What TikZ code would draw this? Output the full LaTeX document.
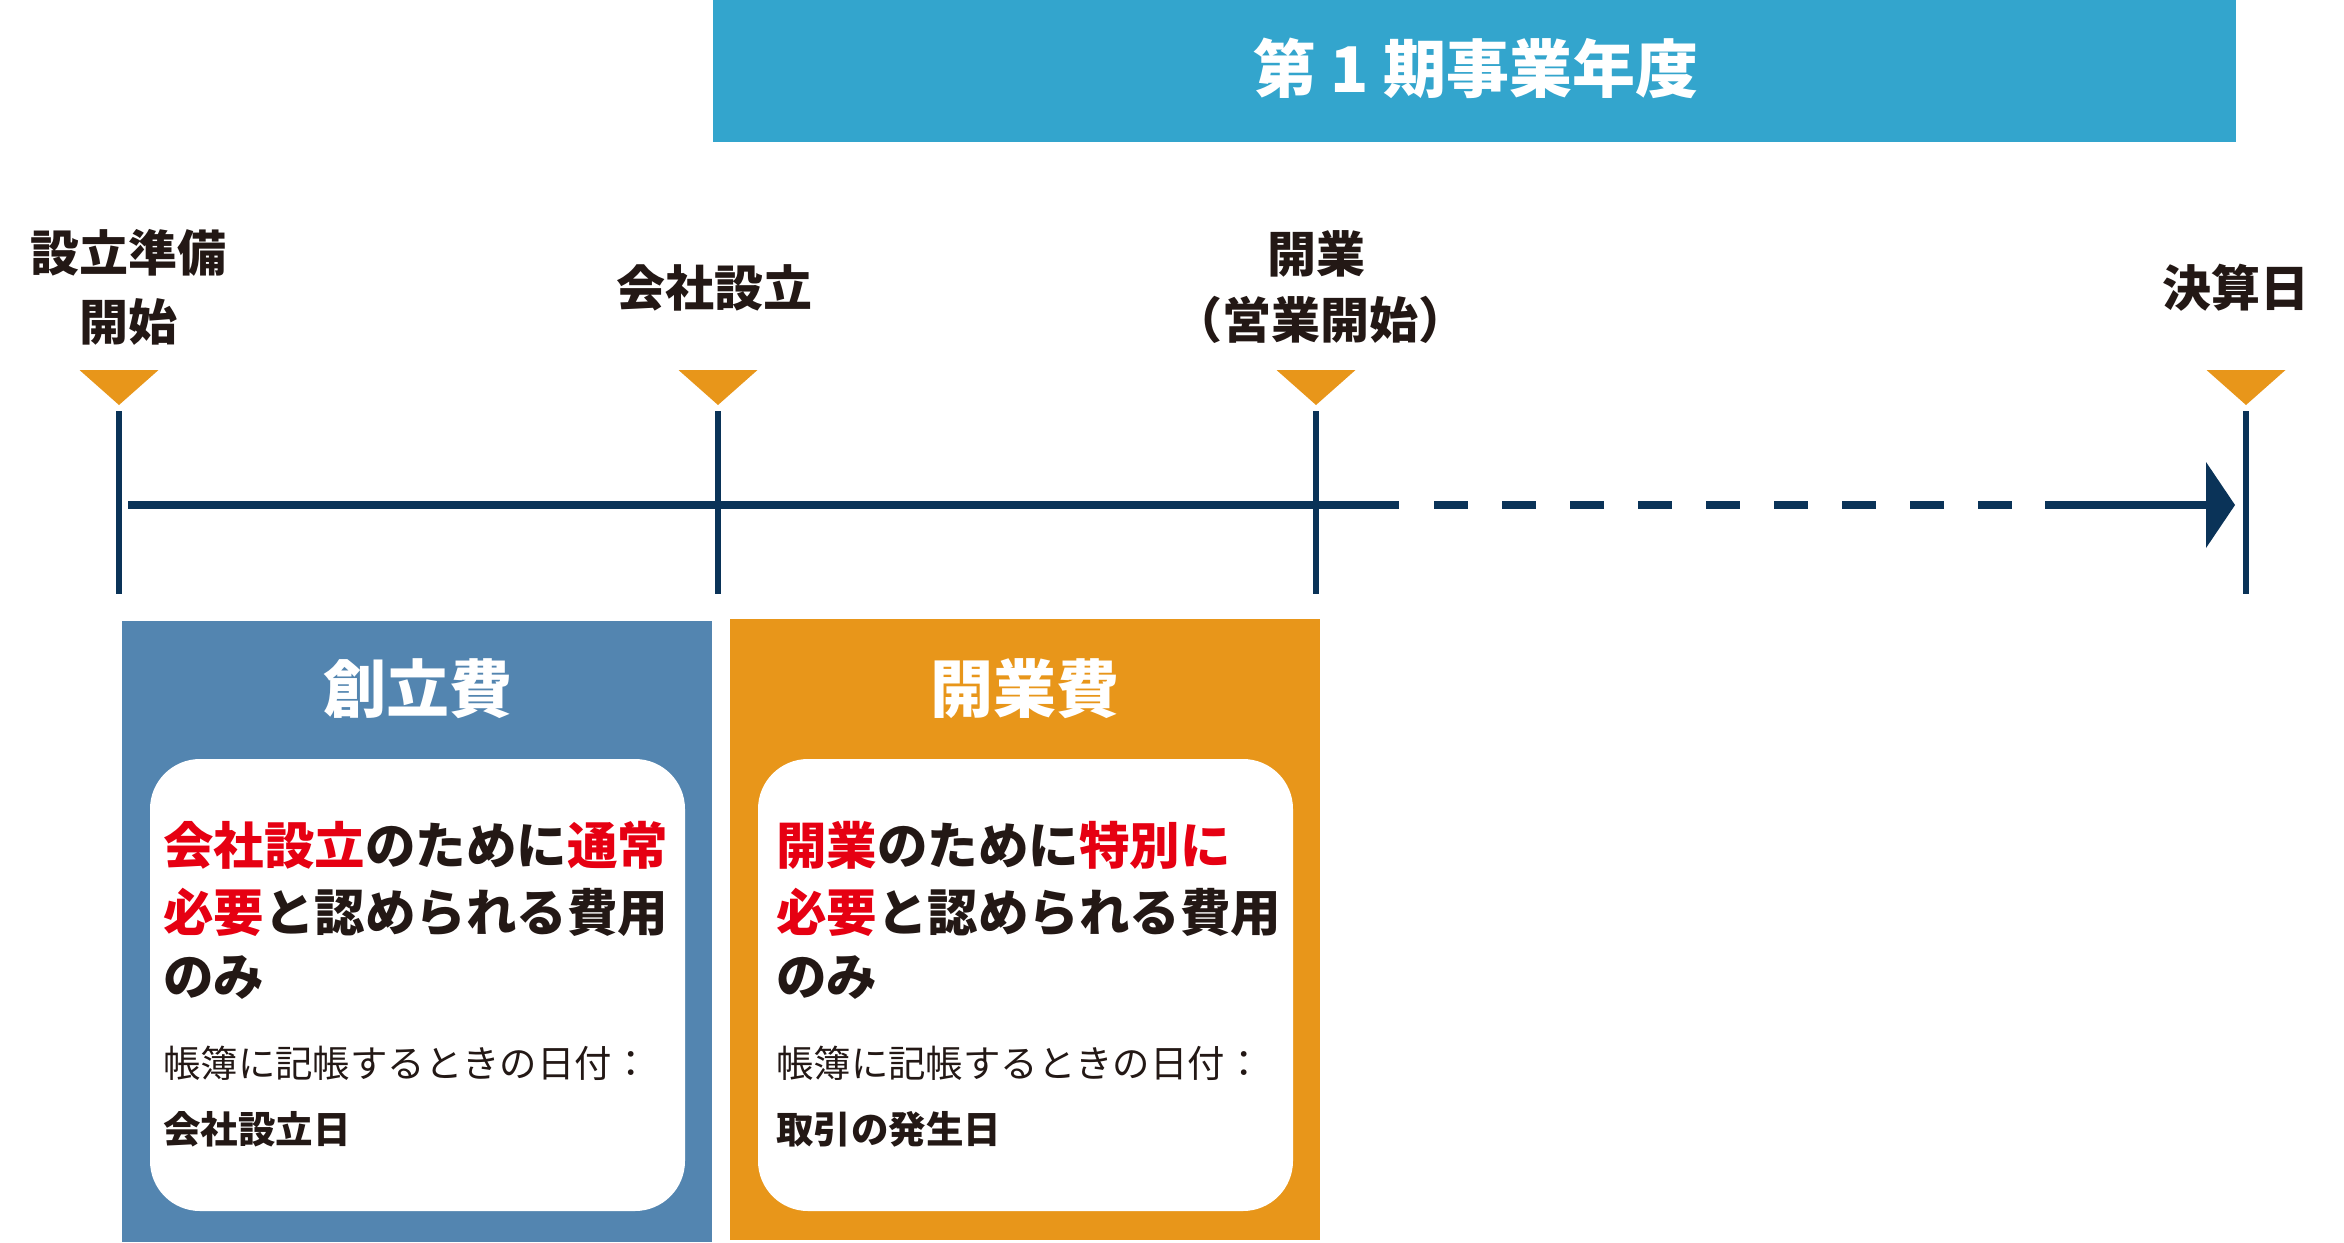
\documentclass[tikz,border=0pt]{standalone}
\usepackage{fontspec}
\setmainfont{Noto Sans CJK JP}[BoldFont={Noto Sans CJK JP Black}]
\definecolor{banner}{HTML}{33A5CD}
\definecolor{navy}{HTML}{0A3358}
\definecolor{orng}{HTML}{E8961A}
\definecolor{steel}{HTML}{5385B0}
\definecolor{redt}{HTML}{E60012}
\definecolor{ink}{HTML}{231815}
\tikzset{
  tick/.style={navy, line width=6pt},
  tline/.style={navy, line width=8pt},
  marker/.style={fill=orng, draw=none},
  lbl/.style={inner sep=0pt, text=ink, font=\bfseries\fontsize{49}{55}\selectfont, align=center},
  head/.style={inner sep=0pt, text=white, font=\bfseries\fontsize{63}{70}\selectfont},
  big/.style={inner sep=0pt, anchor=west, text=ink, font=\bfseries\fontsize{50.5}{56}\selectfont},
  small/.style={inner sep=0pt, anchor=west, text=ink, font=\fontsize{37.4}{42}\selectfont},
  smallb/.style={inner sep=0pt, anchor=west, text=ink, font=\bfseries\fontsize{37.5}{42}\selectfont},
  card/.style={fill=white, draw=none, rounded corners=50pt}
}
\begin{document}
\begin{tikzpicture}[x=1pt,y=-1pt]
\useasboundingbox[fill=white] (0,0) rectangle (2344,1242);
% banner
\fill[banner] (713,0) rectangle (2236,142);
\node[head] (title) at (1476,68) {第 1 期事業年度};
% markers
\foreach \n/\x in {a/119,b/718,c/1316,d/2246}{
  \coordinate (\n top) at (\x,411);
  \coordinate (\n bot) at (\x,594);
  \fill[marker] (\x-39.5,370) -- (\x+39.5,370) -- (\x,405) -- cycle;
  \draw[tick] (\n top) -- (\n bot);
}
% timeline
\coordinate (s0) at (128,505);
\coordinate (s1) at (1399,505);
\coordinate (d0) at (1434,505);
\coordinate (d1) at (2045,505);
\coordinate (e1) at (2208,505);
\draw[tline] (s0) -- (s1);
\draw[tline, dash pattern=on 34pt off 34pt] (d0) -- (d1);
\draw[tline] (d1) -- (e1);
\fill[navy] (2206,462) -- (2235,505) -- (2206,548) -- cycle;
% labels
\node[lbl] (l1a) at (128,253) {設立準備};
\node[lbl] (l1b) at (128,322) {開始};
\node[lbl] (l2) at (714,288) {会社設立};
\node[lbl] (l3a) at (1316,254) {開業};
\node[lbl] (l3b) at (1320,320) {（営業開始）};
\node[lbl] (l4) at (2236,288) {決算日};
% boxes
\fill[steel] (122,621) rectangle (712,1242);
\fill[orng] (730,619) rectangle (1320,1240);
\node[head] (h1) at (418,689) {創立費};
\node[head] (h2) at (1025,689) {開業費};
\fill[card] (150,759) rectangle (685,1211);
\fill[card] (758,759) rectangle (1293,1211);
% left card text
\node[big] (a1) at (163,845) {\textcolor{redt}{会社設立}のために\textcolor{redt}{通常}};
\node[big] (a2) at (163,912) {\textcolor{redt}{必要}と認められる費用};
\node[big] (a3) at (163,978) {のみ};
\node[small] (a4) at (163,1063) {帳簿に記帳するときの日付：};
\node[smallb] (a5) at (163,1129) {会社設立日};
% right card text
\node[big] (b1) at (776,845) {\textcolor{redt}{開業}のために\textcolor{redt}{特別に}};
\node[big] (b2) at (776,912) {\textcolor{redt}{必要}と認められる費用};
\node[big] (b3) at (776,978) {のみ};
\node[small] (b4) at (776,1063) {帳簿に記帳するときの日付：};
\node[smallb] (b5) at (776,1129) {取引の発生日};
\end{tikzpicture}
\end{document}
